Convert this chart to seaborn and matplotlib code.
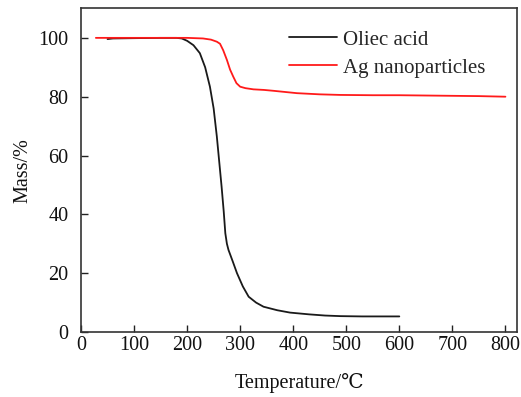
import matplotlib
matplotlib.use("Agg")
import matplotlib.pyplot as plt
import seaborn as sns
import pandas as pd

# Oliec acid (black)
oa_temp = [50, 60, 100, 150, 180, 190, 200, 212, 224, 234, 243, 250, 256, 261, 265, 269, 272, 275, 278, 286, 294, 305, 316, 330, 344, 370, 394, 430, 460, 489, 530, 570, 600]
oa_mass = [99.6, 99.8, 99.9, 100.0, 100.0, 99.8, 99.0, 97.5, 94.8, 90.0, 83.4, 76.0, 66.5, 57.0, 49.4, 41.0, 33.6, 30.0, 27.9, 24.0, 20.0, 15.5, 12.0, 10.0, 8.6, 7.4, 6.6, 6.0, 5.6, 5.4, 5.3, 5.3, 5.3]

# Ag nanoparticles (red)
ag_temp = [28, 60, 100, 150, 200, 230, 245, 256, 262, 268, 275, 281, 287, 293, 300, 310, 325, 345, 363, 385, 407, 450, 489, 550, 600, 650, 700, 750, 800]
ag_mass = [100.0, 100.0, 100.0, 100.0, 100.0, 99.8, 99.4, 98.7, 98.0, 95.8, 92.5, 89.2, 86.8, 84.6, 83.4, 82.9, 82.5, 82.3, 82.0, 81.6, 81.2, 80.8, 80.6, 80.5, 80.5, 80.4, 80.3, 80.2, 80.0]

x_ticks = [0, 100, 200, 300, 400, 500, 600, 700, 800]
y_ticks = [0, 20, 40, 60, 80, 100]

sns.set_theme(style="white")
plt.rcParams['font.family'] = ['Liberation Serif', 'DejaVu Serif', 'DejaVu Sans']

df = pd.concat([
    pd.DataFrame({"Temperature": oa_temp, "Mass": oa_mass, "Sample": "Oliec acid"}),
    pd.DataFrame({"Temperature": ag_temp, "Mass": ag_mass, "Sample": "Ag nanoparticles"}),
])

fig = plt.figure(figsize=(5.21, 3.97), dpi=100)
ax = fig.add_axes([0.1555, 0.1637, 0.837, 0.815])
sns.lineplot(data=df, x="Temperature", y="Mass", hue="Sample",
             palette={"Oliec acid": "#1a1a1a", "Ag nanoparticles": "#ff1a1a"},
             linewidth=1.3, ax=ax, sort=False, estimator=None)

ax.set_xlim(0, 822)
ax.set_ylim(0, 110)
ax.set_xticks(x_ticks)
ax.set_yticks(y_ticks)
ax.tick_params(direction="in", length=5, width=1, labelsize=14.5, colors="#222222",
               top=False, right=False, bottom=True, left=True)
ax.tick_params(axis="x", pad=3)
ax.tick_params(axis="y", pad=9)
for lab in ax.get_xticklabels() + ax.get_yticklabels():
    lab.set_color("#111111")
for s in ax.spines.values():
    s.set_color("#333333")
    s.set_linewidth(1.2)
    s.set_visible(True)

ax.set_xlabel("Temperature/℃", fontsize=14.5, color="#111111", labelpad=13)
ax.set_ylabel("Mass/%", fontsize=14.5, color="#111111", labelpad=4)

leg = ax.legend(loc="upper left", bbox_to_anchor=(0.477, 0.933), frameon=False,
                fontsize=15, handlelength=2.3, handletextpad=0.3, labelspacing=0.4,
                borderaxespad=0, borderpad=0)
leg.set_title(None)

fig.savefig("out.png", dpi=100)
